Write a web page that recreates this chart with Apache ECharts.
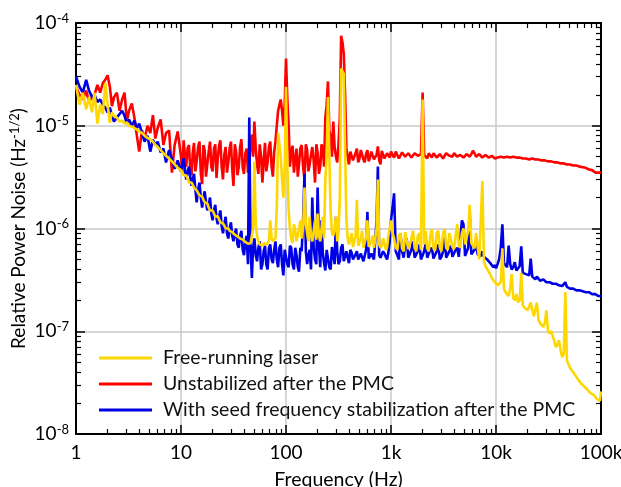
<!DOCTYPE html>
<html>
<head>
<meta charset="utf-8">
<script src="https://cdn.jsdelivr.net/npm/echarts@6/dist/echarts.min.js"></script>
<style>
html,body{margin:0;padding:0;background:#fff;}
#chart{width:621px;height:487px;}
</style>
</head>
<body>
<div id="chart"></div>
<script>
// Main frequency grid (Hz)
const freq = [
  1, 1.08, 1.16, 1.25, 1.33, 1.42, 1.5, 1.6, 1.7, 1.8, 1.9, 2.0, 2.1, 2.2, 2.3, 2.45, 2.6, 2.75, 2.9, 3.05,
  3.2, 3.4, 3.6, 3.8, 4.0, 4.25, 4.5, 4.8, 5.1, 5.4, 5.7, 6.0, 6.4, 6.8, 7.2, 7.7, 8.2, 8.7, 9.3,
  10, 10.6, 11.2, 11.9, 12.6, 13.3, 14.1, 15, 15.9, 16.8, 17.8, 18.9, 20, 21.2, 22.4, 23.7, 25.1, 26.6, 28.2, 29.9,
  31.6, 33.5, 35.5, 37.6, 39.8, 42.2, 44.7, 47.3, 50, 53, 56.2, 59.6, 63.1, 66.8, 70.8, 75, 79.4, 84.1, 89.1, 94.4,
  100, 106, 112, 119, 126, 133, 141, 150, 159, 168, 178, 189, 200, 212, 224, 237, 251, 266, 282, 299,
  316, 335, 355, 376, 398, 422, 447, 473, 501, 531, 562, 596, 631, 668, 708, 750, 794, 841, 891, 944,
  1000, 1070, 1150, 1230, 1320, 1410, 1510, 1620, 1740, 1860, 2000, 2140, 2290, 2450, 2630, 2820, 3020,
  3240, 3470, 3720, 3980, 4270, 4570, 4900, 5250, 5620, 6030, 6460, 6920, 7410, 7940, 8510, 9120, 9770,
  10000, 10700, 11500, 12300, 13200, 14100, 15100, 16200, 17400, 18600, 20000, 21400, 22900, 24500, 26300, 28200, 30200,
  32400, 34700, 37200, 39800, 42700, 45700, 49000, 52500, 56200, 60300, 64600, 69200, 74100, 79400, 85100, 91200, 97700, 100000
];
// Extra frequencies read in the dense-noise part (10 Hz – 100 kHz)
const freqExtra = [
  10.3, 10.9, 11.55, 12.25, 12.95, 13.7, 14.55, 15.45, 16.35, 17.3, 18.35, 19.45, 20.6, 21.8, 23.05, 24.4, 25.85, 27.4, 29.05, 30.75,
  32.55, 34.5, 36.55, 38.7, 41, 43.45, 46, 48.6, 51.5, 54.6, 57.9, 61.3, 64.9, 68.8, 72.9, 77.2, 81.7, 86.6, 91.7, 97.2,
  103, 109, 115.5, 122.5, 129.5, 137, 145.5, 154.5, 163.5, 173, 183.5, 194.5, 206, 218, 230.5, 244, 258.5, 274, 290.5, 307.5,
  325.5, 345, 365.5, 387, 410, 434.5, 460, 487, 516, 546.5, 579, 613.5, 649.5, 688, 729, 772, 817.5, 866, 917.5, 972,
  1035, 1110, 1190, 1275, 1365, 1460, 1565, 1680, 1800, 1930, 2070, 2215, 2370, 2540, 2725, 2920, 3130,
  3355, 3595, 3850, 4125, 4420, 4735, 5075, 5435, 5825, 6245, 6690, 7165, 7675, 8225, 8815, 9445,
  10350, 11100, 11900, 12750, 13650, 14600, 15650, 16800, 18000, 19300, 20700, 22150, 23700, 25400, 27250, 29200, 31300,
  33550, 35950, 38500, 41250, 44200, 47350, 50750, 54350, 58250, 62400, 66900, 71650, 76750, 82250, 88150, 94450
];

// Free-running laser
const freeRunning = [
  2.5e-5, 1.6e-5, 2.1e-5, 1.45e-5, 1.9e-5, 1.35e-5, 2.1e-5, 1.05e-5, 1.6e-5, 1.3e-5, 2.6e-5, 1.6e-5, 1.07e-5, 1.35e-5, 1.25e-5, 1.2e-5, 1.1e-5, 1.12e-5, 1.05e-5, 1.08e-5,
  1.0e-5, 9.8e-6, 9.5e-6, 9.2e-6, 8.8e-6, 8.5e-6, 8.0e-6, 7.6e-6, 7.4e-6, 7.0e-6, 6.5e-6, 6.2e-6, 5.8e-6, 5.4e-6, 5.1e-6, 4.8e-6, 4.5e-6, 4.2e-6, 3.9e-6,
  3.7e-6, 3.3e-6, 3.3e-6, 2.8e-6, 2.8e-6, 2.5e-6, 2.35e-6, 2.1e-6, 2.05e-6, 1.8e-6, 1.75e-6, 1.5e-6, 1.5e-6, 1.3e-6, 1.32e-6, 1.15e-6, 1.12e-6, 1.0e-6, 1.0e-6, 9.2e-7,
  9.3e-7, 8.4e-7, 8.6e-7, 7.7e-7, 7.9e-7, 7.2e-7, 7.0e-7, 7.5e-7, 4.5e-6, 8.5e-7, 7.0e-7, 6.8e-7, 7.4e-7, 7.0e-7, 1.2e-6, 7.5e-7, 8e-7, 8.5e-6, 5e-6, 2e-6,
  2.4e-5, 1.5e-6, 8e-7, 1.1e-6, 7.5e-7, 1.0e-6, 8e-7, 2.5e-6, 9e-7, 1.3e-6, 7.5e-7, 1.2e-6, 1.4e-6, 7.5e-7, 1.3e-6, 3e-6, 1.9e-5, 1.5e-6, 8.5e-7, 1.3e-6,
  9e-7, 3.6e-5, 3.2e-5, 1.2e-6, 7e-7, 9e-7, 6.5e-7, 1.9e-6, 7.0e-7, 9.5e-7, 6.5e-7, 1.2e-6, 6.5e-7, 8.5e-7, 6.4e-7, 3.0e-6, 6.5e-7, 8e-7, 6.2e-7, 8.5e-7,
  1.2e-6, 8e-7, 6.2e-7, 9e-7, 6.0e-7, 8.8e-7, 6.1e-7, 9.5e-7, 6.0e-7, 9e-7, 1.8e-5, 9.5e-7, 6.0e-7, 9.8e-7, 6.1e-7, 9.5e-7, 6.0e-7,
  1.0e-6, 6.2e-7, 9.2e-7, 6.3e-7, 1.1e-6, 6.5e-7, 1.0e-6, 6.8e-7, 1.7e-6, 6.8e-7, 9e-7, 5.0e-7, 2.9e-6, 4.3e-7, 3.8e-7, 3.3e-7, 3.0e-7,
  3.0e-7, 2.7e-7, 6.4e-7, 2.4e-7, 2.2e-7, 3.6e-7, 2.0e-7, 1.9e-7, 3.7e-7, 1.7e-7, 1.6e-7, 1.9e-7, 1.4e-7, 1.9e-7, 1.2e-7, 1.1e-7, 1.6e-7,
  9.5e-8, 9.8e-8, 7.0e-8, 8.2e-8, 5.6e-8, 2.4e-7, 4.8e-8, 4.2e-8, 3.8e-8, 3.4e-8, 3.1e-8, 2.9e-8, 2.7e-8, 2.5e-8, 2.4e-8, 2.2e-8, 2.1e-8, 2.6e-8
];
const freeRunningExtra = [
  3.5e-6, 3.4e-6, 3.05e-6, 2.85e-6, 2.65e-6, 2.45e-6, 2.25e-6, 2.1e-6, 1.9e-6, 1.8e-6, 1.6e-6, 1.5e-6, 1.4e-6, 1.33e-6, 1.22e-6, 1.15e-6, 1.07e-6, 1.02e-6, 9.5e-7, 9.2e-7,
  8.7e-7, 8.4e-7, 8.0e-7, 7.8e-7, 7.4e-7, 7.1e-7, 7.2e-7, 1.0e-6, 1.1e-6, 7.5e-7, 6.8e-7, 7.2e-7, 6.9e-7, 7.6e-7, 8.0e-7, 7.2e-7, 1.6e-6, 6.5e-6, 3.0e-6, 4.0e-6,
  4e-6, 1.0e-6, 7.2e-7, 9.5e-7, 7.8e-7, 1.2e-6, 1.0e-6, 1.1e-6, 7.5e-7, 8.5e-7, 9.5e-7, 7.8e-7, 8.5e-7, 1.0e-6, 8.0e-7, 5.0e-6, 5.0e-6, 9.0e-7, 1.0e-6, 7.5e-7,
  2.0e-6, 3.4e-5, 6.0e-6, 8.0e-7, 7.2e-7, 6.6e-7, 8.5e-7, 6.8e-7, 8.0e-7, 6.5e-7, 8.2e-7, 6.6e-7, 7.5e-7, 6.5e-7, 1.0e-6, 7.0e-7, 6.8e-7, 7.2e-7, 6.6e-7, 1.0e-6,
  9e-7, 6.5e-7, 8.5e-7, 6.4e-7, 9.2e-7, 6.3e-7, 8.0e-7, 6.5e-7, 8.5e-7, 6.2e-7, 7.0e-7, 6.4e-7, 8.6e-7, 6.4e-7, 9.0e-7, 6.5e-7, 8.8e-7,
  6.5e-7, 9.0e-7, 6.6e-7, 8.5e-7, 6.8e-7, 9.0e-7, 7.0e-7, 9.5e-7, 7.2e-7, 6.4e-7, 6.6e-7, 5.2e-7, 4.8e-7, 4.2e-7, 3.6e-7, 3.2e-7,
  2.8e-7, 3.0e-7, 2.6e-7, 2.5e-7, 2.6e-7, 2.1e-7, 2.3e-7, 2.0e-7, 1.8e-7, 1.75e-7, 1.55e-7, 1.6e-7, 1.45e-7, 1.3e-7, 1.2e-7, 1.2e-7, 1.0e-7,
  1.0e-7, 8.0e-8, 7.5e-8, 6.5e-8, 6.0e-8, 5.2e-8, 4.4e-8, 4.0e-8, 3.6e-8, 3.3e-8, 3.0e-8, 2.8e-8, 2.6e-8, 2.45e-8, 2.3e-8, 2.15e-8
];

// Unstabilized after the PMC
const unstabilized = [
  2.4e-5, 2.0e-5, 1.8e-5, 2.2e-5, 1.7e-5, 1.9e-5, 2.0e-5, 2.5e-5, 2.1e-5, 2.6e-5, 2.8e-5, 3.1e-5, 2.4e-5, 1.55e-5, 1.9e-5, 2.1e-5, 1.4e-5, 1.8e-5, 2.1e-5, 1.1e-5,
  1.4e-5, 1.65e-5, 1.2e-5, 8e-6, 5.6e-6, 9e-6, 7.5e-6, 1.0e-5, 8.5e-6, 1.27e-5, 7.5e-6, 9.5e-6, 1.15e-5, 6.5e-6, 8.5e-6, 9e-6, 3.5e-6, 6.5e-6, 8.8e-6,
  5.0e-6, 7.2e-6, 4.0e-6, 6.5e-6, 3.3e-6, 6.8e-6, 4.5e-6, 7.0e-6, 2.7e-6, 5.8e-6, 4.2e-6, 7.0e-6, 3.6e-6, 6.6e-6, 4.8e-6, 7.2e-6, 3.0e-6, 6.2e-6, 4.4e-6, 7.0e-6,
  2.6e-6, 5.6e-6, 4.0e-6, 7.4e-6, 3.4e-6, 6.0e-6, 4.6e-6, 8.2e-6, 1.1e-5, 4.2e-6, 6.6e-6, 2.8e-6, 6.8e-6, 4.4e-6, 7.0e-6, 3.2e-6, 7e-6, 1.4e-5, 1.8e-5, 1.0e-5,
  4.5e-5, 1.0e-5, 5.5e-6, 3.5e-6, 6.0e-6, 4.2e-6, 6.5e-6, 3.0e-6, 5.8e-6, 4.2e-6, 6.2e-6, 2.8e-6, 5.5e-6, 4.0e-6, 6.0e-6, 1.2e-5, 2.7e-5, 8e-6, 1.1e-5, 5e-6,
  6.5e-6, 7.5e-5, 5.0e-5, 6.0e-6, 4.2e-6, 5.8e-6, 4.5e-6, 6.0e-6, 4.8e-6, 5.6e-6, 4.4e-6, 5.8e-6, 4.9e-6, 5.5e-6, 4.6e-6, 6.3e-6, 4.2e-6, 5.5e-6, 5.0e-6, 5.6e-6,
  5.6e-6, 4.9e-6, 5.5e-6, 5.0e-6, 5.4e-6, 4.8e-6, 5.3e-6, 5.0e-6, 5.5e-6, 4.9e-6, 2.1e-5, 5.0e-6, 5.4e-6, 4.9e-6, 5.3e-6, 5.0e-6, 5.5e-6,
  5.0e-6, 5.3e-6, 4.9e-6, 5.4e-6, 5.0e-6, 5.2e-6, 4.9e-6, 5.3e-6, 5.0e-6, 5.7e-6, 5.0e-6, 5.3e-6, 4.9e-6, 5.2e-6, 4.9e-6, 5.1e-6, 4.8e-6,
  5.0e-6, 4.7e-6, 5.1e-6, 4.8e-6, 5.1e-6, 4.8e-6, 5.0e-6, 4.8e-6, 5.0e-6, 4.7e-6, 4.9e-6, 4.6e-6, 4.9e-6, 4.6e-6, 4.8e-6, 4.5e-6, 4.7e-6,
  4.4e-6, 4.6e-6, 4.3e-6, 4.5e-6, 4.2e-6, 4.4e-6, 4.1e-6, 4.3e-6, 4.0e-6, 4.1e-6, 3.9e-6, 4.0e-6, 3.8e-6, 3.8e-6, 3.6e-6, 3.6e-6, 3.4e-6, 3.5e-6
];
const unstabilizedExtra = [
  3.5e-6, 5.2e-6, 6.0e-6, 3.8e-6, 5.5e-6, 3.6e-6, 6.2e-6, 3.4e-6, 6.5e-6, 3.2e-6, 5.6e-6, 4.0e-6, 6.0e-6, 3.1e-6, 6.4e-6, 4.0e-6, 5.2e-6, 3.5e-6, 6.0e-6, 3.8e-6,
  6.6e-6, 3.3e-6, 6.2e-6, 3.9e-6, 5.4e-6, 3.5e-6, 6.4e-6, 5.0e-6, 6.0e-6, 3.4e-6, 5.0e-6, 4.5e-6, 3.6e-6, 6.2e-6, 4.0e-6, 5.6e-6, 1.0e-5, 1.6e-5, 1.4e-5, 1.6e-5,
  1.8e-5, 4.0e-6, 6.4e-6, 4.8e-6, 3.2e-6, 6.0e-6, 4.0e-6, 6.6e-6, 3.6e-6, 5.2e-6, 4.6e-6, 6.6e-6, 3.4e-6, 6.6e-6, 4.0e-6, 1.6e-5, 9e-6, 5.0e-6, 6.2e-6, 4.4e-6,
  1.2e-5, 6.5e-5, 2.0e-5, 5.0e-6, 5.6e-6, 4.6e-6, 5.4e-6, 4.4e-6, 5.8e-6, 4.7e-6, 5.3e-6, 4.5e-6, 5.6e-6, 4.7e-6, 5.2e-6, 4.6e-6, 5.7e-6, 4.8e-6, 5.4e-6, 4.9e-6,
  5.2e-6, 5.6e-6, 4.8e-6, 5.5e-6, 5.0e-6, 5.4e-6, 4.9e-6, 5.4e-6, 5.1e-6, 5.3e-6, 5.2e-6, 4.8e-6, 5.2e-6, 5.4e-6, 4.9e-6, 5.3e-6, 4.8e-6,
  5.4e-6, 5.1e-6, 5.0e-6, 5.3e-6, 4.9e-6, 5.4e-6, 5.0e-6, 5.2e-6, 5.3e-6, 5.4e-6, 4.9e-6, 5.2e-6, 5.0e-6, 5.1e-6, 5.0e-6, 4.9e-6,
  4.9e-6, 5.0e-6, 4.9e-6, 5.0e-6, 4.9e-6, 5.0e-6, 4.9e-6, 4.9e-6, 4.8e-6, 4.8e-6, 4.7e-6, 4.8e-6, 4.7e-6, 4.7e-6, 4.6e-6, 4.6e-6, 4.5e-6,
  4.5e-6, 4.4e-6, 4.4e-6, 4.3e-6, 4.3e-6, 4.2e-6, 4.2e-6, 4.1e-6, 4.1e-6, 4.0e-6, 3.95e-6, 3.9e-6, 3.75e-6, 3.7e-6, 3.5e-6, 3.5e-6
];

// With seed frequency stabilization after the PMC
const seedStabilized = [
  3.0e-5, 2.4e-5, 2.1e-5, 2.8e-5, 2.2e-5, 1.9e-5, 2.0e-5, 1.7e-5, 1.8e-5, 1.6e-5, 1.5e-5, 1.35e-5, 1.5e-5, 1.25e-5, 1.1e-5, 1.2e-5, 1.3e-5, 1.4e-5, 1.25e-5, 1.05e-5,
  1.15e-5, 1.0e-5, 1.12e-5, 9.5e-6, 1.05e-5, 8.5e-6, 7e-6, 8e-6, 5.6e-6, 7.3e-6, 6.5e-6, 7e-6, 5.5e-6, 6e-6, 4.4e-6, 5.8e-6, 4.7e-6, 3.8e-6, 4.6e-6,
  3.6e-6, 4.8e-6, 3.0e-6, 4.0e-6, 2.6e-6, 3.4e-6, 1.8e-6, 2.8e-6, 1.6e-6, 2.3e-6, 1.5e-6, 2.0e-6, 1.2e-6, 1.7e-6, 1.1e-6, 1.5e-6, 9e-7, 1.3e-6, 8e-7, 1.15e-6,
  7.5e-7, 1.0e-6, 6.5e-7, 9.5e-7, 5.5e-7, 8.5e-7, 1.2e-5, 3.3e-7, 8e-7, 4.8e-7, 7.5e-7, 4.5e-7, 6.8e-7, 4.0e-7, 7.0e-7, 4.6e-7, 7.5e-7, 4.2e-7, 7.0e-7, 3.5e-7,
  6e-7, 4.2e-7, 6.5e-7, 4.0e-7, 5.5e-7, 3.8e-7, 6.0e-7, 3.4e-6, 4.5e-7, 6.2e-7, 2.0e-6, 5.0e-7, 2.5e-6, 4.2e-7, 5.8e-7, 3.9e-7, 6e-7, 4.0e-7, 5.5e-7, 1.3e-6,
  4.5e-7, 6.5e-7, 4.8e-7, 6.0e-7, 4.6e-7, 5.8e-7, 5.0e-7, 6.0e-7, 4.9e-7, 5.8e-7, 5.0e-7, 1.45e-6, 5.2e-7, 5.8e-7, 5.0e-7, 4.0e-6, 5.2e-7, 6.0e-7, 5.3e-7, 5.8e-7,
  1.2e-6, 2.2e-6, 5.5e-7, 9e-7, 5.2e-7, 8e-7, 5.4e-7, 7.5e-7, 5.0e-7, 7e-7, 5.5e-7, 7.2e-7, 5.2e-7, 6.5e-7, 5.0e-7, 7.0e-7, 5.3e-7,
  8.5e-7, 5.2e-7, 6.8e-7, 5.4e-7, 6.5e-7, 5.5e-7, 1.1e-6, 5.6e-7, 1.4e-6, 5.6e-7, 7.0e-7, 5.5e-7, 6.0e-7, 5.5e-7, 5.2e-7, 4.8e-7, 4.4e-7,
  4.1e-7, 5.0e-7, 1.1e-6, 4.4e-7, 6.8e-7, 4.0e-7, 4.7e-7, 3.8e-7, 6.7e-7, 3.6e-7, 3.5e-7, 5.1e-7, 3.3e-7, 3.4e-7, 3.1e-7, 3.2e-7, 3.0e-7,
  3.0e-7, 2.9e-7, 2.9e-7, 2.8e-7, 2.75e-7, 3.0e-7, 2.65e-7, 2.6e-7, 2.55e-7, 2.5e-7, 2.45e-7, 2.45e-7, 2.4e-7, 2.35e-7, 2.3e-7, 2.3e-7, 2.25e-7, 2.2e-7
];
const seedStabilizedExtra = [
  4.2e-6, 3.8e-6, 3.5e-6, 3.2e-6, 3.0e-6, 2.4e-6, 2.4e-6, 2.0e-6, 2.0e-6, 1.8e-6, 1.7e-6, 1.4e-6, 1.5e-6, 1.25e-6, 1.3e-6, 1.05e-6, 1.1e-6, 9e-7, 1.0e-6, 8.5e-7,
  9e-7, 7.0e-7, 8.5e-7, 6.2e-7, 7.5e-7, 4.5e-7, 6.5e-7, 6.5e-7, 5.5e-7, 6.5e-7, 4.0e-7, 6.0e-7, 4.5e-7, 6.5e-7, 5.0e-7, 6.2e-7, 5.0e-7, 6.5e-7, 4.5e-7, 6.2e-7,
  4.5e-7, 6.8e-7, 4.5e-7, 6.5e-7, 4.2e-7, 6.5e-7, 1.2e-6, 6.0e-7, 5.5e-7, 4.0e-7, 6.5e-7, 4.5e-7, 6.8e-7, 1.2e-6, 4.6e-7, 6.2e-7, 4.2e-7, 6.6e-7, 4.5e-7, 6.0e-7,
  4.8e-7, 7.0e-7, 5.0e-7, 5.2e-7, 6.2e-7, 5.0e-7, 5.6e-7, 5.0e-7, 5.7e-7, 4.8e-7, 6.2e-7, 5.1e-7, 5.7e-7, 5.0e-7, 1.2e-6, 5.5e-7, 5.0e-7, 5.7e-7, 5.0e-7, 7.5e-7,
  1.6e-6, 6.0e-7, 5.0e-7, 6.0e-7, 7.0e-7, 5.2e-7, 6.2e-7, 5.2e-7, 6.0e-7, 5.0e-7, 6.0e-7, 5.2e-7, 6.2e-7, 5.1e-7, 6.0e-7, 5.0e-7, 6.0e-7,
  5.2e-7, 6.0e-7, 5.3e-7, 6.2e-7, 5.3e-7, 1.2e-6, 5.4e-7, 6.5e-7, 5.6e-7, 6.2e-7, 5.6e-7, 5.4e-7, 5.3e-7, 5.0e-7, 4.6e-7, 4.2e-7,
  4.5e-7, 6.5e-7, 4.6e-7, 4.2e-7, 4.5e-7, 4.2e-7, 3.9e-7, 4.3e-7, 3.7e-7, 3.6e-7, 3.5e-7, 3.4e-7, 3.2e-7, 3.3e-7, 3.1e-7, 3.1e-7, 3.0e-7,
  2.95e-7, 2.9e-7, 2.85e-7, 2.8e-7, 2.7e-7, 2.7e-7, 2.6e-7, 2.6e-7, 2.5e-7, 2.5e-7, 2.45e-7, 2.4e-7, 2.4e-7, 2.3e-7, 2.3e-7, 2.2e-7
];

const seriesNames = ['Free-running laser', 'Unstabilized after the PMC', 'With seed frequency stabilization after the PMC'];
const xTickLabels = ['1', '10', '100', '1k', '10k', '100k'];
const minorX = [];
for (let d = 0; d < 5; d++) for (let m = 2; m <= 9; m++) minorX.push(m * Math.pow(10, d));
const minorY = [];
for (let d = -8; d < -4; d++) for (let m = 2; m <= 9; m++) minorY.push(m * Math.pow(10, d));

const FONT = 'Lato';
// merge main + extra readings and order them by frequency
function pairs(vals, extraVals) {
  const pts = freq.map((f, i) => [f, vals[i]]).concat(freqExtra.map((f, i) => [f, extraVals[i]]));
  return pts.filter(p => p[1] != null).sort((a, b) => a[0] - b[0]);
}

const axisLineStyle = { show: true, lineStyle: { color: '#000', width: 2 } };
function xAxisDef(pos, major, withLabels) {
  return {
    type: 'log', logBase: 10, min: 1, max: 100000, position: pos,
    axisLine: major ? axisLineStyle : { show: false },
    axisTick: major
      ? { show: true, inside: true, length: 9, lineStyle: { color: '#000', width: 1.5 } }
      : { show: true, inside: true, length: 5, customValues: minorX, lineStyle: { color: '#000', width: 1.2 } },
    minorTick: { show: false },
    splitLine: { show: withLabels, lineStyle: { color: '#c8c8c8', width: 1.5 } },
    axisLabel: withLabels ? {
      show: true, margin: 9, fontSize: 19, fontFamily: FONT, color: '#000',
      formatter: v => xTickLabels[Math.round(Math.log10(v))]
    } : { show: false },
    name: withLabels ? 'Frequency (Hz)' : '',
    nameLocation: 'middle', nameGap: 36, nameMoveOverlap: false,
    nameTextStyle: { fontSize: 19.5, fontFamily: FONT, color: '#000' }
  };
}
function yAxisDef(pos, major, withLabels) {
  return {
    type: 'log', logBase: 10, min: 1e-8, max: 1e-4, position: pos,
    axisLine: major ? axisLineStyle : { show: false },
    axisTick: major
      ? { show: true, inside: true, length: 9, lineStyle: { color: '#000', width: 1.5 } }
      : { show: true, inside: true, length: 5, customValues: minorY, lineStyle: { color: '#000', width: 1.2 } },
    minorTick: { show: false },
    splitLine: { show: withLabels, lineStyle: { color: '#c8c8c8', width: 1.5 } },
    axisLabel: withLabels ? {
      show: true, margin: 7,
      formatter: v => '{a|10}{b|' + Math.round(Math.log10(v)) + '}',
      rich: {
        a: { fontSize: 19, fontFamily: FONT, color: '#000', lineHeight: 22 },
        b: { fontSize: 13, fontFamily: FONT, color: '#000', verticalAlign: 'top', lineHeight: 13 }
      }
    } : { show: false },
    name: withLabels ? '{a|Relative Power Noise (Hz}{b|-1/2}{a|)}' : '',
    nameLocation: 'middle', nameGap: 46, nameMoveOverlap: false,
    nameTextStyle: {
      rich: {
        a: { fontSize: 19, fontFamily: FONT, color: '#000', lineHeight: 22 },
        b: { fontSize: 13, fontFamily: FONT, color: '#000', verticalAlign: 'top', lineHeight: 13 }
      }
    }
  };
}

const chart = echarts.init(document.getElementById('chart'), null, { renderer: 'canvas' });
chart.setOption({
  animation: false,
  backgroundColor: '#fff',
  grid: { left: 76, right: 20, top: 23, bottom: 53, containLabel: false, outerBoundsMode: 'none' },
  xAxis: [xAxisDef('bottom', true, true), xAxisDef('bottom', false, false), xAxisDef('top', true, false), xAxisDef('top', false, false)],
  yAxis: [yAxisDef('left', true, true), yAxisDef('left', false, false), yAxisDef('right', true, false), yAxisDef('right', false, false)],
  legend: {
    data: seriesNames, orient: 'vertical', left: 99, top: 348, padding: 0,
    icon: 'rect', itemWidth: 53, itemHeight: 3, itemGap: 6,
    textStyle: { fontSize: 19.5, fontFamily: FONT, color: '#111', lineHeight: 20, padding: [0, 0, 0, 6] }
  },
  series: [
    { name: seriesNames[1], type: 'line', data: pairs(unstabilized, unstabilizedExtra), symbol: 'none', lineStyle: { color: '#ff0000', width: 2.6 }, itemStyle: { color: '#ff0000' }, z: 2 },
    { name: seriesNames[2], type: 'line', data: pairs(seedStabilized, seedStabilizedExtra), symbol: 'none', lineStyle: { color: '#0000e6', width: 2.6 }, itemStyle: { color: '#0000e6' }, z: 3 },
    { name: seriesNames[0], type: 'line', data: pairs(freeRunning, freeRunningExtra), symbol: 'none', lineStyle: { color: '#ffd700', width: 2.6 }, itemStyle: { color: '#ffd700' }, z: 4 }
  ]
});
</script>
</body>
</html>
